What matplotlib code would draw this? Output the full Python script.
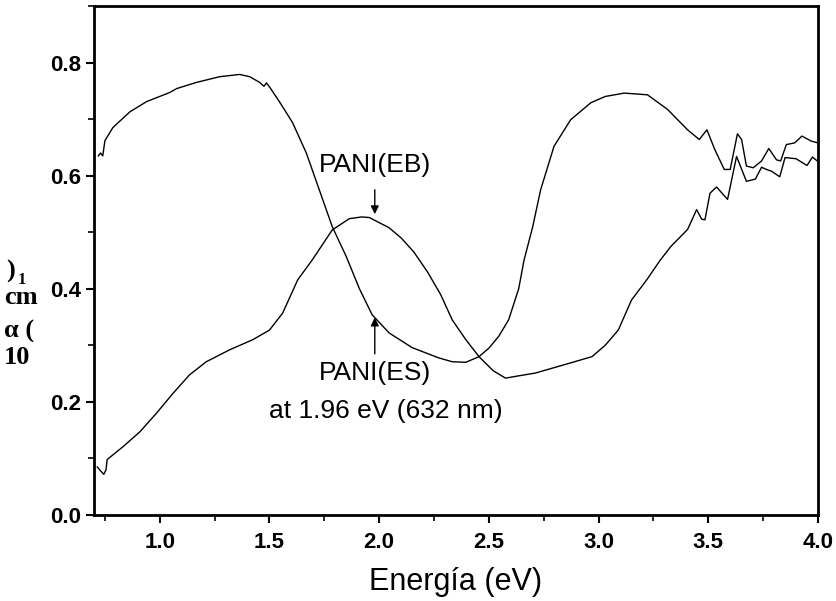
import matplotlib
matplotlib.use("Agg")
import matplotlib.pyplot as plt
from matplotlib.ticker import MultipleLocator

# PANI(ES) spectrum
es_x = [0.72, 0.73, 0.74, 0.75, 0.786, 0.864, 0.94, 1.045, 1.077, 1.168, 1.273, 1.364,
        1.41, 1.455, 1.475, 1.486, 1.50, 1.545, 1.605, 1.668, 1.727, 1.786, 1.85, 1.91,
        1.968, 2.045, 2.15, 2.27, 2.333, 2.395, 2.455, 2.50, 2.545, 2.59, 2.636, 2.66,
        2.70, 2.736, 2.797, 2.873, 2.965, 3.03, 3.117, 3.223, 3.315, 3.406, 3.459, 3.494,
        3.53, 3.573, 3.6, 3.633, 3.652, 3.674, 3.705, 3.743, 3.776, 3.811, 3.83, 3.856,
        3.894, 3.927, 3.97, 4.0]
es_y = [0.635, 0.64, 0.635, 0.662, 0.685, 0.713, 0.731, 0.747, 0.754, 0.765, 0.775, 0.779,
        0.775, 0.765, 0.758, 0.764, 0.757, 0.731, 0.694, 0.64, 0.575, 0.51, 0.457, 0.40,
        0.354, 0.322, 0.296, 0.278, 0.271, 0.270, 0.28, 0.295, 0.316, 0.345, 0.40, 0.45,
        0.51, 0.575, 0.652, 0.699, 0.729, 0.740, 0.746, 0.743, 0.717, 0.681, 0.664, 0.681,
        0.646, 0.611, 0.611, 0.674, 0.664, 0.617, 0.614, 0.626, 0.648, 0.628, 0.626, 0.655,
        0.658, 0.67, 0.661, 0.658]

# PANI(EB) spectrum
eb_x = [0.715, 0.73, 0.745, 0.755, 0.76, 0.833, 0.909, 0.985, 1.06, 1.136, 1.212, 1.318,
        1.424, 1.5, 1.56, 1.629, 1.695, 1.786, 1.864, 1.92, 1.955, 2.045, 2.10, 2.158,
        2.22, 2.28, 2.333, 2.395, 2.455, 2.52, 2.576, 2.62, 2.712, 2.864, 2.97, 3.03,
        3.09, 3.15, 3.22, 3.28, 3.33, 3.406, 3.447, 3.47, 3.485, 3.508, 3.538, 3.588,
        3.629, 3.674, 3.715, 3.743, 3.765, 3.788, 3.826, 3.85, 3.9, 3.95, 3.975, 4.0]
eb_y = [0.085, 0.078, 0.072, 0.08, 0.098, 0.121, 0.147, 0.18, 0.215, 0.248, 0.271, 0.292,
        0.31, 0.327, 0.357, 0.416, 0.451, 0.504, 0.524, 0.527, 0.526, 0.508, 0.49, 0.465,
        0.43, 0.39, 0.345, 0.31, 0.28, 0.255, 0.242, 0.245, 0.251, 0.268, 0.28, 0.30,
        0.327, 0.38, 0.416, 0.45, 0.475, 0.505, 0.54, 0.523, 0.522, 0.569, 0.58, 0.558,
        0.634, 0.59, 0.594, 0.615, 0.611, 0.608, 0.598, 0.632, 0.630, 0.618, 0.633, 0.625]

x_ticks = [1.0, 1.5, 2.0, 2.5, 3.0, 3.5, 4.0]
y_ticks = [0.0, 0.2, 0.4, 0.6, 0.8]

plt.rcParams['font.family'] = ['Liberation Sans', 'DejaVu Sans']

fig = plt.figure(figsize=(8.36, 6.01), dpi=100)
ax = fig.add_axes([0.1124, 0.1431, 0.8660, 0.8469])

ax.plot(es_x, es_y, color='black', lw=1.0)
ax.plot(eb_x, eb_y, color='black', lw=1.0)

ax.set_xlim(0.7, 4.0)
ax.set_ylim(0.0, 0.9)
ax.set_xticks(x_ticks)
ax.set_xticklabels([f"{v:.1f}" for v in x_ticks], fontweight='bold')
ax.set_yticks(y_ticks)
ax.set_yticklabels([f"{v:.1f}" for v in y_ticks], fontweight='bold')
ax.xaxis.set_minor_locator(MultipleLocator(0.25))
ax.yaxis.set_minor_locator(MultipleLocator(0.1))
ax.tick_params(which='major', direction='out', length=6, width=1.5, labelsize=16,
               top=False, right=False, pad=3)
ax.tick_params(axis='x', which='major', pad=6)
ax.tick_params(which='minor', direction='out', length=4, width=1.2, top=False, right=False)
for s in ax.spines.values():
    s.set_linewidth(2.0)

ax.set_xlabel('Energía (eV)', fontsize=22)
ax.xaxis.set_label_coords(0.5, -0.102)

# annotations
ax.annotate('', xy=(1.98, 0.527), xytext=(1.98, 0.58),
            arrowprops=dict(arrowstyle='-|>', color='black', lw=1.0, mutation_scale=12))
ax.text(1.98, 0.597, 'PANI(EB)', ha='center', va='bottom', fontsize=19)
ax.annotate('', xy=(1.98, 0.354), xytext=(1.98, 0.28),
            arrowprops=dict(arrowstyle='-|>', color='black', lw=1.0, mutation_scale=12))
ax.text(1.98, 0.272, 'PANI(ES)', ha='center', va='top', fontsize=19)
ax.text(2.03, 0.205, 'at 1.96 eV (632 nm)', ha='center', va='top', fontsize=19)

# garbled y label (as in the scanned original)
serif = ['Liberation Serif', 'DejaVu Serif']
fig.text(0.007, 1 - 271/601, ')', family=serif, fontsize=19, fontweight='bold',
         va='center', ha='left')
fig.text(0.021, 1 - 280/601, '1', family=serif, fontsize=12, fontweight='bold',
         va='center', ha='left')
fig.text(0.005, 1 - 298/601, 'cm', family=serif, fontsize=19, fontweight='bold',
         va='center', ha='left')
fig.text(0.005, 1 - 331/601, 'α (', family=serif, fontsize=19, fontweight='bold',
         va='center', ha='left')
fig.text(0.005, 1 - 357/601, '10', family=serif, fontsize=19, fontweight='bold',
         va='center', ha='left')

fig.savefig('out.png', dpi=100)
